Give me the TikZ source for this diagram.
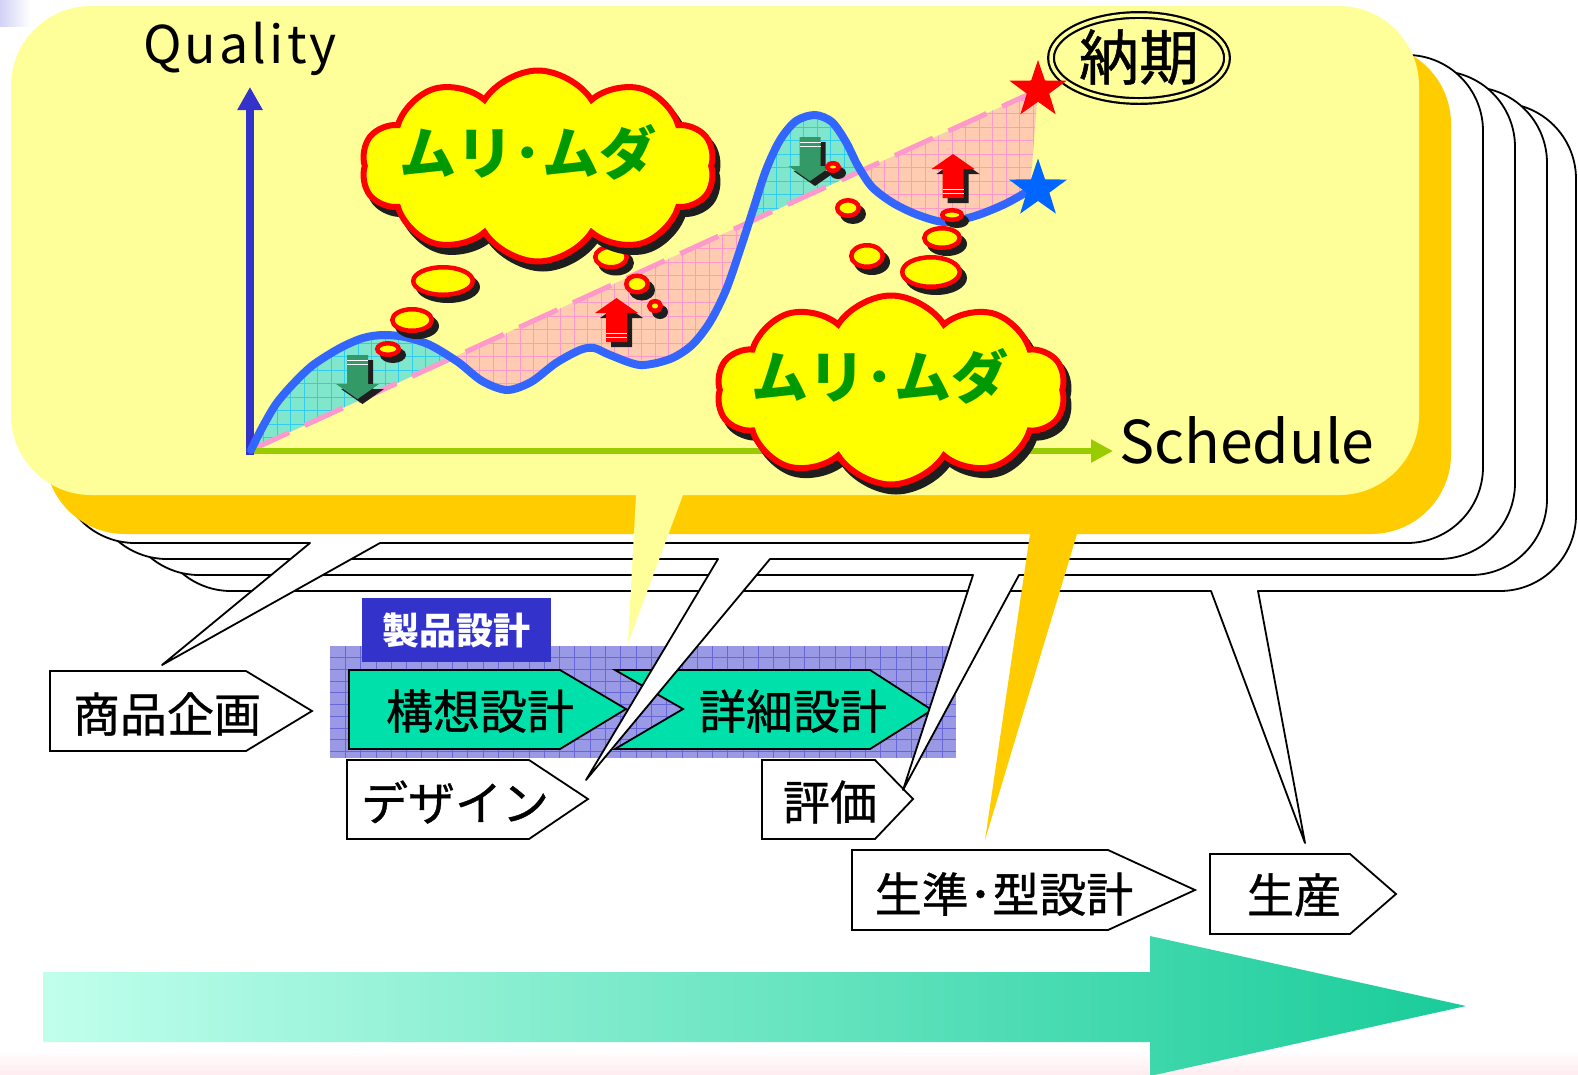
\documentclass[tikz,border=0pt]{standalone}
\usepackage{fontspec}
\usetikzlibrary{shapes.symbols,shapes.geometric,arrows.meta}
\newfontfamily\jp{Noto Sans CJK JP}
\newfontfamily\jpm[FakeBold=0.8]{Noto Sans CJK JP}

\definecolor{yellowbg}{RGB}{255,255,153}
\definecolor{gold}{RGB}{255,204,0}
\definecolor{axisblue}{RGB}{51,51,204}
\definecolor{axisgreen}{RGB}{153,204,0}
\definecolor{curveblue}{RGB}{51,102,255}
\definecolor{dashpink}{RGB}{255,153,204}
\definecolor{tealfill}{RGB}{128,230,204}
\definecolor{tealgrid}{RGB}{51,204,238}
\definecolor{pinkfill}{RGB}{255,204,178}
\definecolor{pinkgrid}{RGB}{255,153,204}
\definecolor{cloudyellow}{RGB}{255,255,0}
\definecolor{cloudred}{RGB}{255,0,0}
\definecolor{mugreen}{RGB}{0,153,0}
\definecolor{arrowgreen}{RGB}{51,153,102}
\definecolor{arrowred}{RGB}{255,0,0}
\definecolor{starblue}{RGB}{0,102,255}
\definecolor{panelblue}{RGB}{153,153,230}
\definecolor{panelgrid}{RGB}{102,102,214}
\definecolor{labelblue}{RGB}{51,51,204}
\definecolor{boxteal}{RGB}{0,224,170}
\definecolor{shadowblack}{RGB}{30,30,30}
\definecolor{mintlight}{RGB}{192,255,236}
\definecolor{mintdark}{RGB}{24,204,153}
\definecolor{lavpatch}{RGB}{210,210,245}
\definecolor{pinkband}{RGB}{255,236,240}

% rounded body with a pointed tail on its lower edge:
% #1 left, #2 top, #3 right, #4 bottom, #5 corner radius,
% #6/#7 tail base (left/right), #8/#9 tail tip
\newcommand\calloutpath[9]{(#6,#4) -- (#1+#5,#4)
  arc[start angle=90,end angle=180,radius=#5] -- (#1,#2+#5)
  arc[start angle=180,end angle=270,radius=#5] -- (#3-#5,#2)
  arc[start angle=270,end angle=360,radius=#5] -- (#3,#4-#5)
  arc[start angle=0,end angle=90,radius=#5] -- (#7,#4) -- (#8,#9) -- cycle}

% quality curve of the chart
\newcommand\qcurve{plot[smooth,tension=0.5] coordinates {(251,450) (262,428) (276,404) (293,384) (313,365) (340,348) (363,338) (383,335) (405,337) (430,345) (458,362) (482,381) (507,390) (531,382) (556,363) (580,350) (594,348) (610,355) (640,365) (670,359) (692,345) (710,322) (726,290) (740,250) (753,210) (766,170) (780,140) (796,121) (815,115) (832,122) (846,142) (858,166) (872,187) (893,203) (918,215) (945,222) (975,216) (1005,204) (1030,190)}}

% block arrow pointing up, centred on the origin
\newcommand\arrowshape{(0,-22) -- (21.5,-7) -- (10.5,-7) -- (10.5,22) -- (-10.5,22) -- (-10.5,-7) -- (-21.5,-7) -- cycle}
\newcommand\blockarrow[4]{%
  \begin{scope}[shift={(#1+5,#2+5)},rotate=#4]
    \fill[shadowblack] \arrowshape;
  \end{scope}
  \begin{scope}[shift={(#1,#2)},rotate=#4]
    \fill[#3] \arrowshape;
    \draw[white,line width=1pt] (-10.5,13) -- (10.5,13) (-10.5,17) -- (10.5,17);
  \end{scope}}

% thought bubble: centre, outer radii
\newcommand\bubble[4]{%
  \fill[shadowblack] (#1+5,#2+6) ellipse[x radius=#3,y radius=#4];
  \filldraw[fill=cloudyellow,draw=cloudred,line width=4.5pt] (#1,#2) ellipse[x radius=#3-2.25,y radius=#4-2.25];}

\begin{document}
\begin{tikzpicture}[x=1pt,y=-1pt,
  outline/.style={fill=white,draw=black,line width=1.8pt,line join=round},
  stepbox/.style={draw=black,line width=1.8pt,line join=miter},
  boxtext/.style={font=\jpm\fontsize{47}{50}\selectfont,inner sep=0pt},
  cloudbase/.style={cloud,cloud puffs=10,cloud puff arc=115,cloud ignores aspect,inner sep=0pt,line width=6pt},
  cloudmain/.style={cloudbase,fill=cloudyellow,draw=cloudred},
  cloudshadow/.style={cloudbase,fill=shadowblack,draw=shadowblack},
  mutext/.style={font=\jp\bfseries\fontsize{57}{60}\selectfont,text=mugreen,inner sep=0pt}]
\useasboundingbox (0,0) rectangle (1578,1074);
\fill[white] (0,0) rectangle (1578,1074);

% slide background traces
\shade[left color=lavpatch,right color=white] (0,0) rectangle (30,26);
\shade[top color=white,bottom color=pinkband] (0,1050) rectangle (1578,1074);

% process direction arrow
\shade[left color=mintlight,right color=mintdark]
  (43,972) -- (1150,972) -- (1150,936) -- (1466,1006) -- (1150,1076) -- (1150,1042) -- (43,1042) -- cycle;

% product design panel
\begin{scope}[shift={(330,646)}]
  \fill[panelblue] (0,0) rectangle (626,112);
  \foreach \gx in {15.3,30.6,...,620} \draw[panelgrid,line width=0.8pt] (\gx,0) -- (\gx,112);
  \foreach \gy in {11.7,23.4,...,110} \draw[panelgrid,line width=0.8pt] (0,\gy) -- (626,\gy);
\end{scope}
\node[fill=labelblue,minimum width=189pt,minimum height=64pt,inner sep=0pt,
      text=white,font=\jp\bfseries\fontsize{37}{40}\selectfont] (seihin) at (456.5,630) {製品設計};

% process steps
\filldraw[stepbox,fill=white] (50,671) -- (246,671) -- (312,711) -- (246,751) -- (50,751) -- cycle;
\node[boxtext] (shohin) at (167,714) {商品企画};
\filldraw[stepbox,fill=boxteal] (349,670) -- (560,670) -- (626,709) -- (560,749) -- (349,749) -- cycle;
\node[boxtext] (koso) at (480,711) {構想設計};
\filldraw[stepbox,fill=boxteal] (615,670) -- (870,670) -- (932,710) -- (870,749) -- (615,749) -- (683,709) -- cycle;
\node[boxtext] (shosai) at (793,711) {詳細設計};
\filldraw[stepbox,fill=white] (347,760) -- (529,760) -- (588,799) -- (529,839) -- (347,839) -- cycle;
\node[boxtext] (design) at (455,802) {デザイン};
\filldraw[stepbox,fill=white] (762,760) -- (875,760) -- (913,799) -- (875,839) -- (762,839) -- cycle;
\node[boxtext] (hyoka) at (830,802) {評価};
\filldraw[stepbox,fill=white] (852,850) -- (1108,850) -- (1195,890) -- (1108,930) -- (852,930) -- cycle;
\node[boxtext] (seijun) at (1004,894) {生準･型設計};
\filldraw[stepbox,fill=white] (1210,854) -- (1350,854) -- (1396,894) -- (1350,934) -- (1210,934) -- cycle;
\node[boxtext] (seisan) at (1294,895) {生産};

% stacked callouts, back to front
\filldraw[outline] \calloutpath{155}{103}{1576}{591}{76}{1211}{1258}{1305}{843};
\filldraw[outline] \calloutpath{123}{87}{1547}{575}{76}{973}{1019}{903}{790};
\filldraw[outline] \calloutpath{91}{71}{1515}{559}{76}{718}{770}{586}{780};
\filldraw[outline] \calloutpath{59}{55}{1483}{543}{76}{310}{380}{162}{665};
\fill[gold] \calloutpath{45}{44}{1451}{534}{80}{1030}{1077}{985}{840};
\fill[yellowbg] \calloutpath{11}{6}{1419}{495}{80}{636}{683}{628}{643};

% chart: regions between the curve and the plan line
\begin{scope}
  \clip (-143,630) -- (1432,-90) -- (1432,-300) -- (-143,-300) -- cycle;
  \clip \qcurve -- (1038,90) -- cycle;
  \fill[tealfill] (200,40) rectangle (1100,470);
  \foreach \gx in {250,263.5,...,1045} \draw[tealgrid,line width=0.8pt] (\gx,60) -- (\gx,460);
  \foreach \gy in {73,86.5,...,460} \draw[tealgrid,line width=0.8pt] (240,\gy) -- (1050,\gy);
\end{scope}
\begin{scope}
  \clip (-143,630) -- (1432,-90) -- (1432,900) -- (-143,900) -- cycle;
  \clip \qcurve -- (1038,90) -- cycle;
  \fill[pinkfill] (200,40) rectangle (1100,470);
  \foreach \gx in {250,263.5,...,1045} \draw[pinkgrid,line width=0.8pt] (\gx,60) -- (\gx,460);
  \foreach \gy in {73,86.5,...,460} \draw[pinkgrid,line width=0.8pt] (240,\gy) -- (1050,\gy);
\end{scope}

\coordinate (origin) at (250,451);
\coordinate (ytip) at (250,87);
\coordinate (xtip) at (1113,451);
\coordinate (planstart) at (251,450);
\coordinate (planend) at (1038,90);

\draw[dashpink,line width=5pt,dash pattern=on 42pt off 17pt] (planstart) -- (planend);
\draw[axisgreen,line width=6.5pt,-{Triangle[width=22pt,length=22pt]}] ([xshift=-4pt]origin) -- (xtip);
\draw[axisblue,line width=8pt,-{Triangle[width=24pt,length=23pt]}] ([yshift=-4pt]origin) -- (ytip);
\draw[curveblue,line width=8pt,line cap=round,line join=round] \qcurve;

% improvement arrows
\blockarrow{616.5}{320}{arrowred}{0}
\blockarrow{953}{176}{arrowred}{0}
\blockarrow{357.5}{377}{arrowgreen}{180}
\blockarrow{810}{159}{arrowgreen}{180}

% deadline and end points
\node[ellipse,draw=black,double=yellowbg,double distance=3.5pt,line width=2.2pt,fill=yellowbg,
      minimum width=176pt,minimum height=86pt,inner sep=0pt] (noukiring) at (1139,58) {};
\node[font=\jpm\fontsize{60}{62}\selectfont,inner sep=0pt] (nouki) at (1139,57) {納期};
\node[star,star points=5,star point ratio=2.55,minimum size=60pt,inner sep=0pt,fill=red] (redstar) at (1038,90) {};
\node[star,star points=5,star point ratio=2.55,minimum size=61pt,inner sep=0pt,fill=starblue] (bluestar) at (1038,189) {};

% thought bubbles
\bubble{443}{281}{32}{16}
\bubble{412}{320}{22}{13}
\bubble{388}{349}{13}{8}
\bubble{611}{257}{18}{12.5}
\bubble{637}{284}{13}{10.5}
\bubble{655}{306}{8}{7}
\bubble{931}{272}{31}{17}
\bubble{942}{238}{20}{12}
\bubble{952}{215}{12}{7}
\bubble{867}{256}{18}{13}
\bubble{848}{208}{13}{10}
\bubble{833}{167}{8}{6}

% clouds
\node[cloudshadow,minimum width=353pt,minimum height=191pt] (cloudAs) at (543,173) {};
\node[cloudmain,minimum width=353pt,minimum height=191pt] (cloudA) at (538,166) {};
\node[mutext] (muA) at (528,152) {ムリ･ムダ};
\node[cloudshadow,minimum width=349pt,minimum height=189pt] (cloudBs) at (896,397) {};
\node[cloudmain,minimum width=349pt,minimum height=189pt] (cloudB) at (891,390) {};
\node[mutext] (muB) at (880,376) {ムリ･ムダ};

% axis labels, letters spread evenly over their width
\node[anchor=base,inner sep=0pt,font=\jp\fontsize{52}{56}\selectfont] (qlabel) at (240,63)
  {\makebox[194pt][s]{Q\hfil u\hfil a\hfil l\hfil i\hfil t\hfil y}};
\node[anchor=base,inner sep=0pt,font=\jp\fontsize{59}{62}\selectfont] (slabel) at (1243.5,463)
  {\makebox[249pt][s]{S\hfil c\hfil h\hfil e\hfil d\hfil u\hfil l\hfil e}};
\end{tikzpicture}
\end{document}
